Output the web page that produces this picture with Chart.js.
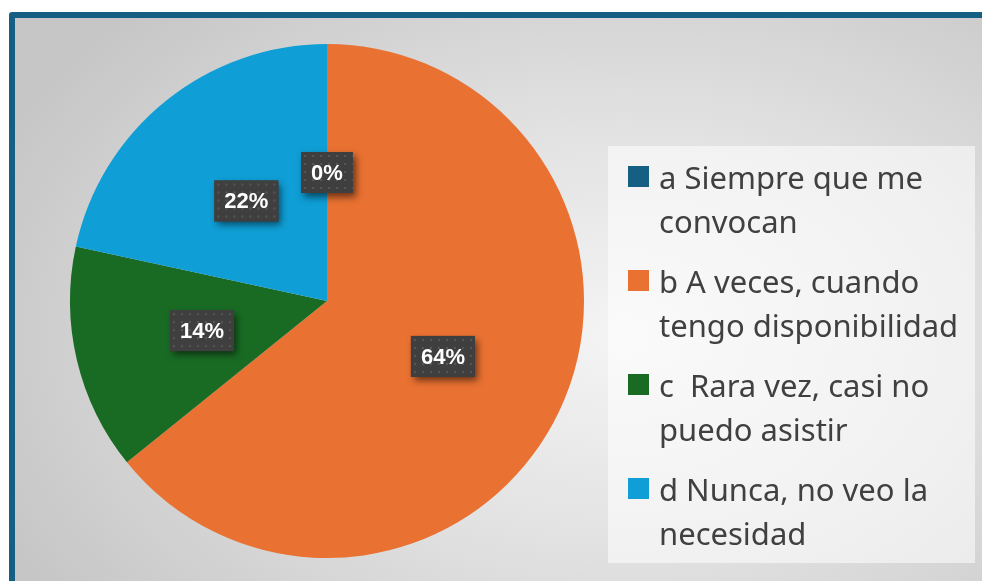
<!DOCTYPE html>
<html>
<head>
<meta charset="utf-8">
<script src="https://cdn.jsdelivr.net/npm/chart.js@4/dist/chart.umd.min.js"></script>
<style>
    html, body { margin: 0; padding: 0; background: #fff; overflow: hidden; }
    #stage { position: relative; width: 982px; height: 581px; }
    #frame {
        position: absolute; left: 9px; top: 12px; width: 990px; height: 590px;
        border: 6px solid #156082; border-radius: 3px; box-sizing: border-box;
        background: radial-gradient(ellipse 70% 80% at 62% 55%, #f4f4f4 0%, #e2e2e2 45%, #c6c6c6 100%);
    }
    #legend {
        position: absolute; left: 608px; top: 146px; width: 367px; height: 417px;
        background: rgba(255,255,255,0.55);
    }
    .item { position: absolute; left: 20px; }
    .swatch { position: absolute; left: 0; top: 11px; width: 21px; height: 21px; }
    .txt {
        position: absolute; left: 31px; top: 0; width: 312px;
        font-family: "Noto Sans", sans-serif; font-size: 31px; line-height: 44px;
        color: #404040; white-space: pre-wrap;
    }
    #pie { position: absolute; left: 0; top: 0; }
</style>
</head>
<body>
<div id="stage">
    <div id="frame"></div>
    <canvas id="pie" width="982" height="581"></canvas>
    <div id="legend"></div>
</div>
<script>
const categories = [
    'a Siempre que me convocan',
    'b A veces, cuando tengo disponibilidad',
    'c  Rara vez, casi no puedo asistir',
    'd Nunca, no veo la necesidad'
];
// slice sizes (labels show them rounded)
const shares = [0, 64.2, 14.2, 21.6];
const sliceColors = ['#156082', '#e97132', '#196b24', '#0f9ed5'];

let dotPattern = null;

function makePattern(ctx) {
    const c = document.createElement('canvas');
    c.width = 8; c.height = 8;
    const p = c.getContext('2d');
    p.fillStyle = '#3f3f3f';
    p.fillRect(0, 0, 8, 8);
    p.fillStyle = '#575757';
    p.fillRect(3, 3, 2, 2);
    return ctx.createPattern(c, 'repeat');
}

// percent boxes drawn at each slice's centre point
const labelBoxes = {
    id: 'labelBoxes',
    afterDatasetsDraw(chart) {
        const ctx = chart.ctx;
        if (!dotPattern) dotPattern = makePattern(ctx);
        const vals = chart.data.datasets[0].data;
        const total = vals.reduce((a, b) => a + b, 0);
        const meta = chart.getDatasetMeta(0);
        ctx.save();
        ctx.font = 'bold 22px "Liberation Sans", Arial, sans-serif';
        ctx.textAlign = 'center';
        ctx.textBaseline = 'middle';
        meta.data.forEach((arc, i) => {
            const pos = arc.tooltipPosition();
            const txt = Math.round(vals[i] / total * 100) + '%';
            const w = ctx.measureText(txt).width + 20;
            const h = 41;
            const x = pos.x - w / 2, y = pos.y - h / 2;
            ctx.save();
            ctx.shadowColor = 'rgba(0,0,0,0.55)';
            ctx.shadowBlur = 7;
            ctx.shadowOffsetX = 3;
            ctx.shadowOffsetY = 4;
            ctx.fillStyle = '#3f3f3f';
            ctx.fillRect(x, y, w, h);
            ctx.restore();
            ctx.save();
            ctx.translate(x, y);
            ctx.fillStyle = dotPattern;
            ctx.fillRect(0, 0, w, h);
            ctx.restore();
            ctx.fillStyle = '#ffffff';
            ctx.fillText(txt, pos.x, pos.y + 1);
        });
        ctx.restore();
    }
};

const chart = new Chart(document.getElementById('pie'), {
    type: 'pie',
    data: {
        labels: categories,
        datasets: [{
            data: shares,
            backgroundColor: sliceColors,
            borderWidth: 0
        }]
    },
    options: {
        responsive: false,
        animation: false,
        layout: { padding: { left: 70, top: 44, right: 398, bottom: 23 } },
        plugins: {
            legend: { display: false },
            tooltip: { enabled: false }
        }
    },
    plugins: [labelBoxes]
});

// legend built from the same arrays
const legendEl = document.getElementById('legend');
categories.forEach((name, i) => {
    const item = document.createElement('div');
    item.className = 'item';
    item.style.top = (9 + i * 104) + 'px';
    const sw = document.createElement('div');
    sw.className = 'swatch';
    sw.style.background = sliceColors[i];
    const t = document.createElement('div');
    t.className = 'txt';
    t.textContent = name;
    item.appendChild(sw);
    item.appendChild(t);
    legendEl.appendChild(item);
});
</script>
</body>
</html>
